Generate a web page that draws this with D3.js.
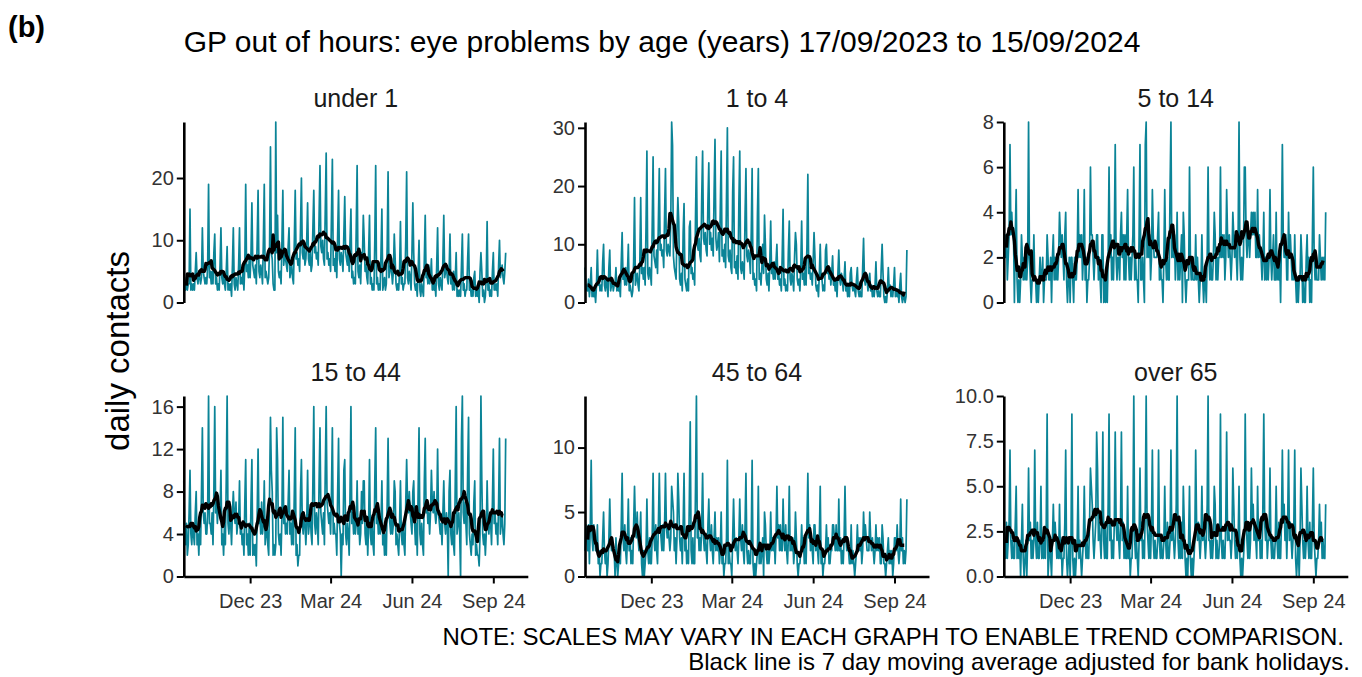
<!DOCTYPE html>
<html>
<head>
<meta charset="utf-8">
<script src="https://cdn.jsdelivr.net/npm/d3@7"></script>
<style>
  body { margin: 0; background: #fff; }
  svg { font-family: "Liberation Sans", Arial, sans-serif; }
</style>
</head>
<body>
<svg id="chart" width="1362" height="677"></svg>
<script>
// Daily contacts.
// First value = Sun 17/09/2023, then 52 weeks Mon..Sun (2 weeks per line) up to Sun 15/09/2024
const under1 = [2,
  3,2,4,2,3,3,15, 2,3,2,3,2,5,8,
  4,3,5,4,3,4,12, 5,4,3,4,3,6,19,
  4,5,3,5,3,8,11, 3,4,2,3,2,6,12,
  4,3,5,3,2,5,9, 2,3,2,3,1,6,12,
  3,2,4,3,2,6,12, 3,4,3,5,2,6,19,
  5,6,4,7,4,8,16, 6,5,4,6,3,10,18,
  5,4,6,5,3,10,19, 4,5,4,3,4,9,25,
  8,7,3,2,2,29,8, 14,5,4,5,3,10,18,
  6,8,7,6,5,9,12, 4,5,6,4,3,10,18,
  7,8,6,7,5,12,20, 8,7,9,6,7,10,16,
  7,6,8,5,6,12,18, 8,9,7,8,6,14,22,
  9,8,10,7,6,15,24, 7,8,6,7,5,14,23,
  6,7,5,8,4,11,18, 7,6,8,7,5,11,17,
  8,7,6,9,5,10,15, 4,5,3,4,3,12,22,
  5,4,6,3,8,7,14, 10,5,6,4,3,8,14,
  3,4,2,3,2,10,22, 3,4,2,3,2,8,15,
  2,3,4,2,3,9,21, 4,5,6,5,3,5,11,
  7,3,2,3,2,5,13, 3,4,2,3,3,10,21,
  4,3,5,4,2,8,16, 8,3,2,3,1,5,10,
  2,1,3,2,1,7,14, 4,5,3,6,3,4,7,
  2,3,2,3,1,6,12, 3,2,4,3,2,7,14,
  4,5,6,4,3,5,11, 3,4,2,5,2,4,8,
  1,2,1,2,1,6,11, 2,3,1,2,2,7,11,
  2,3,1,2,1,4,5, 1,2,1,2,0,5,8,
  5,1,2,0,1,4,13, 2,3,1,2,1,5,8,
  2,3,2,3,1,6,10, 4,5,6,4,3,5,8
];

const age1to4 = [6,
  2,3,2,4,1,3,6, 1,2,1,2,0,3,9,
  3,4,2,3,2,7,10, 3,2,4,3,1,6,9,
  2,3,4,2,3,3,6, 2,3,2,3,1,7,12,
  4,5,3,6,3,5,10, 2,3,2,1,2,7,18,
  3,4,5,3,2,7,18, 5,6,4,6,3,13,26,
  5,4,6,5,3,13,25, 8,7,6,9,5,14,23,
  9,10,8,9,6,15,23, 9,8,10,9,8,14,31,
  27,8,6,5,4,12,18, 14,4,3,5,2,12,17,
  4,3,2,4,2,13,14, 5,6,4,5,3,15,25,
  10,9,11,8,7,18,26, 11,10,12,9,8,17,24,
  10,12,9,11,8,19,28, 11,9,10,12,7,16,26,
  8,9,7,10,6,18,30, 8,7,9,6,5,19,25,
  6,7,5,8,4,17,26, 6,5,7,6,4,15,23,
  8,7,9,8,5,12,23, 4,5,3,4,2,15,23,
  4,5,3,6,10,5,15, 10,4,3,5,2,7,14,
  5,6,4,7,4,7,10, 4,5,3,4,2,8,16,
  3,4,2,3,2,9,14, 4,3,5,4,2,8,12,
  10,4,3,4,2,6,14, 4,5,3,6,3,10,22,
  5,6,4,5,3,7,12, 8,3,2,3,1,5,10,
  4,4,2,3,2,9,10, 5,6,4,6,3,5,8,
  3,4,2,4,1,5,9, 4,3,5,4,2,4,7,
  2,3,1,3,1,5,6, 3,2,3,2,1,4,6,
  2,1,2,1,1,6,11, 4,3,5,4,2,4,5,
  2,3,1,2,1,3,7, 2,1,2,1,1,6,10,
  5,1,0,1,0,2,6, 2,3,1,2,1,3,6,
  1,2,1,2,0,3,5, 1,0,1,1,0,1,9
];

const age5to14 = [3,
  3,2,3,1,2,3,7, 3,4,3,3,0,3,5,
  1,0,1,0,1,3,2, 1,2,1,2,1,2,8,
  2,1,0,1,1,3,1, 1,0,1,0,1,2,1,
  1,2,0,1,1,1,3, 2,1,1,2,0,2,3,
  1,2,1,2,1,2,4, 3,2,3,2,1,3,4,
  1,0,1,2,0,2,2, 1,0,2,1,1,2,5,
  2,3,2,3,1,2,5, 1,2,0,1,1,2,6,
  3,3,2,1,2,2,3, 3,1,2,1,0,3,3,
  0,1,0,1,0,2,6, 2,3,1,2,1,3,7,
  2,1,2,2,1,3,4, 2,3,1,3,1,3,5,
  2,1,2,1,2,3,6, 1,2,1,1,0,3,7,
  1,1,2,1,0,7,8, 2,3,2,3,1,2,5,
  3,2,2,2,2,3,4, 1,2,1,1,0,2,5,
  2,1,2,1,1,5,8, 2,3,2,3,1,2,4,
  1,2,1,2,3,0,4, 3,1,0,1,1,1,6,
  2,1,2,1,1,1,3, 1,2,1,0,1,1,3,
  1,0,1,1,0,2,6, 2,1,2,1,1,2,4,
  3,1,2,1,2,2,6, 2,3,2,3,1,2,5,
  3,2,3,2,1,2,4, 3,2,3,2,1,3,8,
  2,1,2,1,2,6,6, 3,2,3,3,2,3,4,
  3,4,3,4,2,2,5, 2,3,2,2,1,2,4,
  1,2,1,2,1,2,5, 2,1,2,3,1,1,4,
  1,2,1,2,0,3,7, 3,2,2,3,1,1,4,
  2,3,2,1,2,1,3, 1,0,1,0,1,1,3,
  2,0,1,0,0,2,3, 1,2,0,1,0,3,6,
  2,1,2,1,1,1,3, 2,1,2,1,2,1,4
];

const age15to44 = [9,
  4,3,5,2,3,6,10, 4,3,5,4,3,6,8,
  3,4,2,5,3,8,14, 6,5,6,4,4,6,17,
  5,5,4,6,3,8,16, 6,7,5,7,6,6,10,
  3,4,2,5,3,9,17, 5,4,6,5,3,6,8,
  6,5,7,4,5,5,9, 4,5,3,4,2,7,11,
  3,4,2,5,2,7,11, 2,3,2,3,1,6,12,
  5,6,4,7,4,5,9, 3,4,5,3,2,8,15,
  10,8,2,3,2,3,14, 11,4,3,4,2,6,15,
  5,6,4,5,4,7,10, 4,5,3,6,3,8,14,
  2,3,1,2,2,8,11, 5,4,6,5,3,5,10,
  4,5,6,4,3,9,16, 5,4,6,5,3,9,14,
  6,5,4,6,3,10,16, 7,6,5,6,4,8,14,
  4,5,4,4,2,8,13, 5,4,0,4,3,10,11,
  4,3,5,4,2,8,16, 5,6,4,6,4,5,9,
  4,5,3,4,8,5,9, 9,4,3,5,2,5,11,
  4,3,5,3,2,9,14, 5,6,4,6,4,5,9,
  3,4,2,4,2,7,13, 6,5,4,6,4,5,9,
  8,3,4,3,2,5,9, 4,3,5,3,2,7,11,
  7,6,8,6,5,4,8, 9,5,3,5,2,8,14,
  4,3,5,3,2,9,13, 6,7,5,6,4,6,10,
  7,6,8,6,5,6,12, 6,5,4,5,3,6,9,
  5,4,6,5,0,8,10, 4,3,5,3,2,9,16,
  4,5,6,4,0,13,17, 6,5,7,5,3,10,15,
  4,3,2,4,3,7,9, 2,3,2,2,1,4,17,
  9,4,3,4,2,4,9, 5,4,6,5,3,7,12,
  5,6,4,5,3,7,13, 4,5,6,4,3,5,13
];

const age45to64 = [2,
  4,3,2,4,1,4,9, 3,2,4,3,2,2,4,
  1,2,0,1,1,3,5, 2,1,2,0,1,3,6,
  3,2,3,2,2,0,3, 1,0,1,2,1,4,8,
  3,2,4,2,1,3,6, 2,3,1,2,1,4,7,
  4,3,5,3,2,3,5, 1,0,2,0,1,2,6,
  2,1,3,1,1,3,8, 3,2,4,2,1,4,8,
  4,3,2,4,2,4,8, 4,3,4,3,2,3,7,
  6,5,2,3,1,3,8, 6,3,2,3,1,4,8,
  2,3,1,2,1,6,12, 2,1,3,1,1,7,14,
  3,4,2,3,2,4,8, 3,2,3,2,1,4,6,
  3,2,4,2,1,3,5, 2,3,2,3,1,2,5,
  1,2,0,1,1,3,9, 1,2,1,1,0,3,6,
  3,2,3,2,1,3,6, 3,2,4,2,1,4,8,
  2,1,2,1,1,3,9, 1,0,1,0,1,2,7,
  1,2,1,2,3,0,5, 4,2,1,2,1,2,5,
  2,3,2,3,1,3,7, 3,4,2,4,2,2,6,
  3,2,4,2,1,3,7, 2,3,2,3,1,2,5,
  3,1,0,1,1,2,4, 2,3,1,3,1,4,8,
  3,4,2,3,2,1,4, 4,2,3,2,1,3,7,
  1,2,0,1,1,2,4, 2,3,1,1,2,2,4,
  4,3,2,4,2,2,6, 2,3,1,2,1,3,7,
  3,2,3,2,1,1,4, 1,2,1,0,1,2,4,
  2,3,2,3,1,2,5, 3,4,3,2,2,2,5,
  3,2,3,2,1,2,4, 2,3,2,3,1,1,4,
  3,1,1,0,1,2,3, 1,2,1,2,0,1,3,
  3,2,4,2,1,2,6, 2,3,1,2,1,2,6
];

const over65 = [1,
  2,1,3,1,2,3,7, 2,1,2,1,1,3,5,
  1,2,1,2,0,2,4, 1,0,1,2,0,2,6,
  2,3,1,2,1,2,7, 2,1,3,1,1,2,5,
  1,2,1,2,1,3,9, 0,1,2,1,0,2,4,
  2,3,2,1,2,1,4, 1,2,0,1,1,3,7,
  1,0,1,2,0,2,9, 1,0,1,0,1,2,5,
  1,2,1,0,1,2,5, 2,1,2,1,1,3,6,
  5,4,2,1,2,3,8, 6,2,3,2,1,3,8,
  2,1,3,1,1,4,9, 2,3,1,2,1,3,8,
  3,2,3,2,1,3,8, 2,3,1,2,1,1,5,
  1,2,0,1,1,3,10, 2,1,2,1,0,2,6,
  2,3,1,2,1,4,10, 3,2,1,3,1,3,7,
  2,1,2,1,1,2,7, 2,1,2,1,1,2,5,
  2,1,3,1,1,2,7, 2,3,2,1,2,4,10,
  2,1,2,1,3,1,5, 3,1,0,1,0,2,5,
  1,0,1,0,1,2,7, 3,2,3,2,1,2,5,
  2,3,2,1,2,4,10, 2,2,1,2,1,2,5,
  4,1,2,1,1,2,9, 2,1,2,1,1,3,8,
  2,3,2,2,1,2,6, 4,2,1,2,1,2,5,
  1,0,1,0,1,2,9, 3,2,1,3,1,2,6,
  3,4,2,3,2,1,5, 2,3,1,2,1,4,9,
  3,2,3,1,2,2,6, 2,1,2,1,1,2,5,
  2,1,3,1,1,3,7, 3,4,2,3,1,3,7,
  2,3,2,1,2,3,7, 1,0,1,2,0,2,6,
  4,2,1,2,1,2,5, 2,1,3,1,1,3,6,
  2,1,0,1,1,2,4, 2,3,1,2,1,1,4
];

// panel names and y tick labels (scales vary per panel)
const panelNames = ["under 1", "1 to 4", "5 to 14", "15 to 44", "45 to 64", "over 65"];
const panelValues = [under1, age1to4, age5to14, age15to44, age45to64, over65];
const panelTicks = [
  [0, 10, 20],
  [0, 10, 20, 30],
  [0, 2, 4, 6, 8],
  [0, 4, 8, 12, 16],
  [0, 5, 10],
  [0, 2.5, 5, 7.5, 10]
];
const xTickDates = ["2023-12-01", "2024-03-01", "2024-06-01", "2024-09-01"];

const startDate = new Date("2023-09-17T00:00:00Z");
const axisEnd = new Date("2024-10-10T00:00:00Z");
const dates = under1.map((d, i) => d3.utcDay.offset(startDate, i));

// layout
const colX = [183.8, 585, 1003.8];
const rowTop = [122, 396];
const panelW = 344;
const panelH = 180.5;
const teal = "#0b8497";

const svg = d3.select("#chart");

// 7 day centred moving average
function movingAverage(values) {
  return values.map((v, i) => {
    if (i < 3 || i > values.length - 4) return null;
    return d3.mean(values.slice(i - 3, i + 4));
  });
}

function drawPanel(p) {
  const col = p % 3;
  const row = Math.floor(p / 3);
  const values = panelValues[p];
  const g = svg.append("g")
    .attr("transform", `translate(${colX[col]},${rowTop[row]})`);

  const x = d3.scaleUtc().domain([startDate, axisEnd]).range([0, panelW]);
  const y = d3.scaleLinear().domain([0, d3.max(values)]).range([panelH, 0]);

  const line = d3.line()
    .defined((d) => d != null)
    .x((d, i) => x(dates[i]))
    .y((d) => y(d));

  g.append("path")
    .datum(values)
    .attr("d", line)
    .attr("fill", "none")
    .attr("stroke", teal)
    .attr("stroke-width", 1.7)
    .attr("stroke-linejoin", "round");

  g.append("path")
    .datum(movingAverage(values))
    .attr("d", line)
    .attr("fill", "none")
    .attr("stroke", "#000")
    .attr("stroke-width", 3.4)
    .attr("stroke-linejoin", "round");

  // y axis
  const fmt = p === 5 ? d3.format(".1f") : d3.format("d");
  const yAxis = g.append("g")
    .call(d3.axisLeft(y).tickValues(panelTicks[p]).tickFormat(fmt)
      .tickSize(7).tickPadding(3).tickSizeOuter(0));
  styleAxis(yAxis);

  // x axis only on the bottom row
  if (row === 1) {
    const xAxis = g.append("g")
      .attr("transform", `translate(0,${panelH})`)
      .call(d3.axisBottom(x)
        .tickValues(xTickDates.map((d) => new Date(d + "T00:00:00Z")))
        .tickFormat(d3.utcFormat("%b %y"))
        .tickSize(7).tickPadding(10).tickSizeOuter(0));
    styleAxis(xAxis);
  }

  // panel title
  svg.append("text")
    .attr("x", colX[col] + panelW / 2)
    .attr("y", rowTop[row] - 15)
    .attr("text-anchor", "middle")
    .attr("font-size", 25)
    .attr("fill", "#1a1a1a")
    .text(panelNames[p]);
}

function styleAxis(a) {
  a.select(".domain").attr("stroke", "#000").attr("stroke-width", 2.6);
  a.selectAll(".tick line").attr("stroke", "#000").attr("stroke-width", 2);
  a.selectAll(".tick text")
    .attr("font-size", 20)
    .attr("fill", "#333")
    .attr("font-family", "Liberation Sans, Arial, sans-serif");
}

d3.range(6).forEach(drawPanel);

// titles and notes
svg.append("text")
  .attr("x", 8).attr("y", 37)
  .attr("font-size", 29).attr("font-weight", "bold")
  .text("(b)");

svg.append("text")
  .attr("x", 662).attr("y", 52)
  .attr("text-anchor", "middle")
  .attr("font-size", 30)
  .text("GP out of hours: eye problems by age (years) 17/09/2023 to 15/09/2024");

svg.append("text")
  .attr("transform", "translate(129,351) rotate(-90)")
  .attr("text-anchor", "middle")
  .attr("font-size", 33)
  .text("daily contacts");

svg.append("text")
  .attr("x", 1344).attr("y", 645)
  .attr("text-anchor", "end")
  .attr("font-size", 24)
  .text("NOTE: SCALES MAY VARY IN EACH GRAPH TO ENABLE TREND COMPARISON.");

svg.append("text")
  .attr("x", 1350).attr("y", 670)
  .attr("text-anchor", "end")
  .attr("font-size", 24)
  .text("Black line is 7 day moving average adjusted for bank holidays.");
</script>
</body>
</html>
